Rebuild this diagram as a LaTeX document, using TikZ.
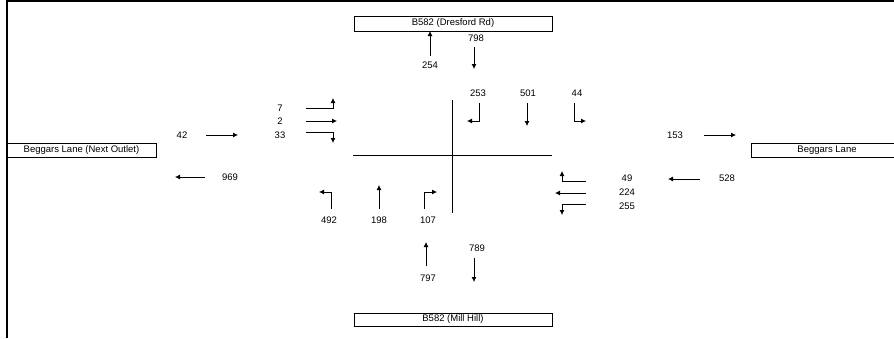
\documentclass[tikz,border=0pt]{standalone}
\usepackage{fontspec}
\setmainfont{Liberation Sans}
\usetikzlibrary{arrows.meta,positioning}

\begin{document}
\begin{tikzpicture}[x=1pt,y=-1pt]
	% We set the looks of the turning counts sketch once here
	\tikzset{
		>={Latex[length=5pt,width=5pt]}, % small filled heads
		flow/.style={->, line width=0.8pt}, % a movement arrow
		road/.style={draw, line width=0.8pt, inner sep=0pt, minimum height=14pt, font=\fontsize{9.5}{11}\selectfont},
		count/.style={inner sep=0pt, font=\fontsize{9.5}{11}\selectfont},
	}
	\useasboundingbox (0,0) rectangle (894,338);
	% frame along the top and the left
	\draw[line width=2pt] (7,338) -- (7,1) -- (894,1);
	% the four arms
	\node[road, minimum width=198pt, minimum height=15pt] (north) at (453,23.5) {B582 (Dresford Rd)};
	\node[road, minimum width=198pt, minimum height=13pt] (south) at (453,319.5) {B582 (Mill Hill)};
	\node[road, minimum width=149pt] (west) at (81.5,150) {Beggars Lane (Next Outlet)};
	\node[road, minimum width=152pt] (east) at (827,150) {Beggars Lane};
	% the cross in the middle
	\coordinate (crossN) at (452,100);
	\coordinate (crossS) at (452,213);
	\coordinate (crossW) at (353,155);
	\coordinate (crossE) at (552,155);
	\draw[line width=0.8pt] (crossN) -- (crossS) (crossW) -- (crossE);

	% north arm: link flows
	\node[count] (n254) at (430,65) {254};
	\node[count] (n798) at (476,38) {798};
	\coordinate (a254s) at (430,56); \coordinate (a254e) at (430,31);
	\coordinate (a798s) at (474,47); \coordinate (a798e) at (474,69);
	\draw[flow] (a254s) -- (a254e);
	\draw[flow] (a798s) -- (a798e);
	% north approach: turns
	\node[count] (n253) at (478,93) {253};
	\node[count] (n501) at (528,93) {501};
	\node[count] (n44) at (577,93) {44};
	\coordinate (a253s) at (479,103); \coordinate (a253e) at (467,121);
	\coordinate (a501s) at (527,103); \coordinate (a501e) at (527,126);
	\coordinate (a44s) at (574,103); \coordinate (a44e) at (586,121);
	\draw[flow] (a253s) |- (a253e);
	\draw[flow] (a501s) -- (a501e);
	\draw[flow] (a44s) |- (a44e);

	% west arm
	\node[count] (n42) at (182,135) {42};
	\node[count] (n969) at (230,177) {969};
	\coordinate (a42s) at (206,135); \coordinate (a42e) at (238,135);
	\coordinate (a969s) at (205,177); \coordinate (a969e) at (175,177);
	\draw[flow] (a42s) -- (a42e);
	\draw[flow] (a969s) -- (a969e);
	\node[count] (n7) at (280,108) {7};
	\node[count] (n2) at (280,121) {2};
	\node[count] (n33) at (280,135) {33};
	\coordinate (a7s) at (306,108); \coordinate (a7e) at (333,98);
	\coordinate (a2s) at (306,121); \coordinate (a2e) at (337,121);
	\coordinate (a33s) at (306,132); \coordinate (a33e) at (333,143);
	\draw[flow] (a7s) -| (a7e);
	\draw[flow] (a2s) -- (a2e);
	\draw[flow] (a33s) -| (a33e);

	% east arm
	\node[count] (n153) at (675,135) {153};
	\node[count] (n528) at (727,178) {528};
	\coordinate (a153s) at (704,135); \coordinate (a153e) at (736,135);
	\coordinate (a528s) at (700,179); \coordinate (a528e) at (668,179);
	\draw[flow] (a153s) -- (a153e);
	\draw[flow] (a528s) -- (a528e);
	\node[count] (n49) at (627,178) {49};
	\node[count] (n224) at (627,192) {224};
	\node[count] (n255) at (627,206) {255};
	\coordinate (a49s) at (586,181); \coordinate (a49e) at (562,171);
	\coordinate (a224s) at (586,193); \coordinate (a224e) at (555,193);
	\coordinate (a255s) at (586,204); \coordinate (a255e) at (562,215);
	\draw[flow] (a49s) -| (a49e);
	\draw[flow] (a224s) -- (a224e);
	\draw[flow] (a255s) -| (a255e);

	% south approach: turns
	\node[count] (n492) at (329,220) {492};
	\node[count] (n198) at (379,220) {198};
	\node[count] (n107) at (428,220) {107};
	\coordinate (a492s) at (331,209); \coordinate (a492e) at (319,192);
	\coordinate (a198s) at (379,209); \coordinate (a198e) at (379,185);
	\coordinate (a107s) at (424,209); \coordinate (a107e) at (437,192);
	\draw[flow] (a492s) |- (a492e);
	\draw[flow] (a198s) -- (a198e);
	\draw[flow] (a107s) |- (a107e);
	% south arm: link flows
	\node[count] (n797) at (428,278) {797};
	\node[count] (n789) at (477,248) {789};
	\coordinate (a797s) at (426,266); \coordinate (a797e) at (426,242);
	\coordinate (a789s) at (474,258); \coordinate (a789e) at (474,282);
	\draw[flow] (a797s) -- (a797e);
	\draw[flow] (a789s) -- (a789e);
\end{tikzpicture}
\end{document}
